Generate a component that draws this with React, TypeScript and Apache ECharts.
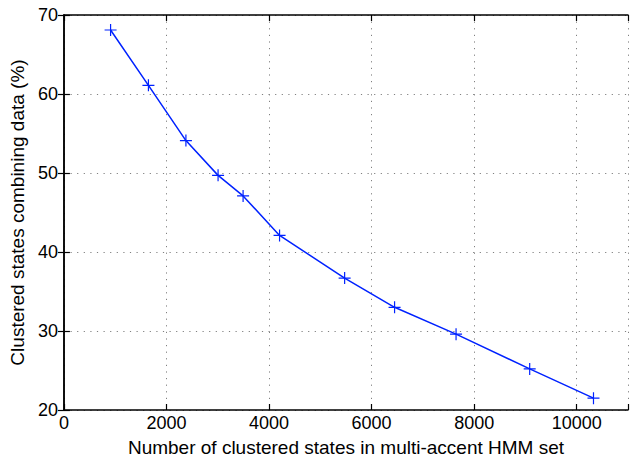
import React, { useEffect, useRef } from "react";
import * as echarts from "echarts";

const clusteredStates = [910, 1648, 2379, 3006, 3494, 4205, 5474, 6448, 7647, 9083, 10327];
const combiningPct = [68.1, 61.1, 54.1, 49.7, 47.1, 42.1, 36.7, 33.0, 29.6, 25.2, 21.5];
const xTicks = [0, 2000, 4000, 6000, 8000, 10000];
const yTicks = [20, 30, 40, 50, 60, 70];

const FONT = "Liberation Sans, Arial, sans-serif";
const PLUS = "path://M-0.1,-1H0.1V-0.1H1V0.1H0.1V1H-0.1V0.1H-1V-0.1H-0.1Z";

export default function App() {
  const ref = useRef<HTMLDivElement>(null);
  useEffect(() => {
    if (!ref.current) return;
    const chart = echarts.init(ref.current, undefined, { renderer: "svg" });
    const grid = "#808080";
    const axisCommon = {
      axisLine: { show: true, lineStyle: { color: "#000", width: 1.5 } },
      axisTick: { show: true, inside: true, length: 6, lineStyle: { color: "#000", width: 1.2 } },
    };
    chart.setOption({
      animation: false,
      backgroundColor: "#fff",
      grid: { left: 62, top: 15, bottom: 50, right: -3 },
      xAxis: [
        {
          type: "value",
          min: 0,
          max: 11000,
          interval: 2000,
          position: "bottom",
          ...axisCommon,
          axisLabel: {
            color: "#000",
            fontSize: 18,
            fontFamily: FONT,
            margin: 4,
            formatter: (v: number) => (xTicks.includes(v) ? String(v) : ""),
          },
          splitLine: { show: true, lineStyle: { color: grid, type: [1.2, 5.4], width: 1 } },
          name: "Number of clustered states in multi-accent HMM set",
          nameLocation: "middle",
          nameGap: 28,
          nameTextStyle: { color: "#000", fontSize: 19, fontFamily: FONT },
        },
        {
          type: "value",
          min: 0,
          max: 11000,
          interval: 2000,
          position: "top",
          ...axisCommon,
          axisLabel: { show: false },
          splitLine: { show: false },
        },
      ],
      yAxis: [
        {
          type: "value",
          min: 20,
          max: 70,
          interval: 10,
          position: "left",
          ...axisCommon,
          axisLabel: {
            color: "#000",
            fontSize: 18,
            fontFamily: FONT,
            margin: 6,
            formatter: (v: number) => (yTicks.includes(v) ? String(v) : ""),
          },
          splitLine: { show: true, lineStyle: { color: grid, type: [1.2, 5.4], width: 1 } },
          name: "Clustered states combining data (%)",
          nameLocation: "middle",
          nameRotate: 90,
          nameGap: 34,
          nameTextStyle: { color: "#000", fontSize: 19, fontFamily: FONT },
        },
        {
          type: "value",
          min: 20,
          max: 70,
          interval: 10,
          position: "right",
          ...axisCommon,
          axisLabel: { show: false },
          splitLine: { show: false },
        },
      ],
      series: [
        {
          type: "line",
          data: clusteredStates.map((x, i) => [x, combiningPct[i]]),
          lineStyle: { color: "#0022ff", width: 1.5 },
          itemStyle: { color: "#0022ff" },
          symbol: PLUS,
          symbolSize: 12,
          showSymbol: true,
        },
      ],
    });
    return () => chart.dispose();
  }, []);
  return (
    <div
      ref={ref}
      style={{ position: "fixed", left: 0, top: 0, width: 631, height: 462, background: "#fff" }}
    />
  );
}
